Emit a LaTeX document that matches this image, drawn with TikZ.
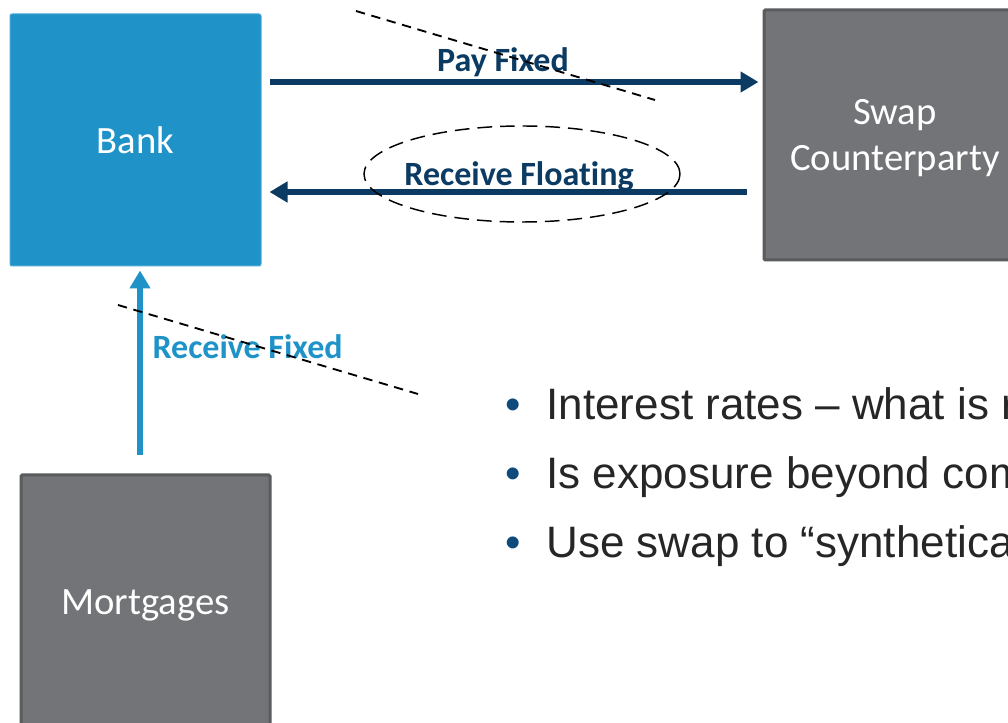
\documentclass[tikz,border=0pt]{standalone}
\usepackage{fontspec}
\setmainfont[Ligatures={NoCommon}]{Carlito}
\newfontfamily\bulletfont{Liberation Sans}
\usepackage{xcolor}
\usetikzlibrary{arrows.meta,calc}
\definecolor{bankblue}{HTML}{1F93C8}
\definecolor{flownavy}{HTML}{0B3A62}
\definecolor{boxgray}{HTML}{737478}
\definecolor{boxedge}{HTML}{5A5B5D}
\definecolor{bullettext}{HTML}{262626}
\definecolor{bulletdot}{HTML}{0E4A7C}
\tikzset{
  every picture/.style={line width=0.75pt},
  bankbox/.style={fill=bankblue, draw=bankblue!80!white, line width=0.75pt, rounded corners=1.5pt,
    text=white, font=\fontsize{29}{35}\selectfont, inner sep=0pt},
  graybox/.style={fill=boxgray, draw=boxedge, line width=2.25pt, rounded corners=1pt,
    text=white, font=\fontsize{29}{35}\selectfont, align=center, inner sep=0pt, text depth=0pt},
  flowarrow/.style={line width=4.5pt, -{Triangle[length=13.5pt,width=15pt]}},
  flowlabel/.style={font=\bfseries\fontsize{25.5}{30}\selectfont, inner sep=0pt},
  hintline/.style={line width=1.4pt, dash pattern=on 7pt off 5pt},
  ringline/.style={line width=1.1pt, dash pattern=on 11pt off 6pt},
  bulletline/.style={anchor=base west, inner sep=0pt, text=bullettext,
    font=\bulletfont\fontsize{33}{40}\selectfont}
}
\newcommand{\bulletmark}{\llap{{\color{bulletdot}\textbullet}\hspace{19pt}}}

\begin{document}
\begin{tikzpicture}[x=0.75pt,y=0.75pt,yscale=-1,xscale=1]
    \useasboundingbox (0,0) rectangle (1008,723);
    \clip (0,0) rectangle (1008,723);
    % boxes
    \node [bankbox, minimum width=188.25pt, minimum height=189pt] (bank) at (135.5,140) {Bank};
    \node [graybox, minimum width=196.5pt, minimum height=187.5pt] (swap) at (895,135) {Swap\\Counterparty};
    \node [graybox, minimum width=186.75pt, minimum height=190.5pt] (mortgages) at (145.5,602) {Mortgages};
    % flows between the bank and the counterparty
    \draw [flowarrow, draw=flownavy, color=flownavy] ($(bank.east)+(8,-58)$) -- ($(swap.west)+(-4,-53)$);
    \draw [flowarrow, draw=flownavy, color=flownavy] ($(swap.west)+(-16,57)$) -- ($(bank.east)+(8,52)$);
    \draw [flowarrow, draw=bankblue, color=bankblue] ($(mortgages.north)+(-5.5,-18)$) -- ($(bank.south)+(4.5,4)$);
    % labels
    \node [flowlabel, text=flownavy] (payfixed) at (503,62) {Pay Fixed};
    \node [flowlabel, text=flownavy] (recfloat) at (519,176) {Receive Float\kern0pt ing};
    \node [flowlabel, text=bankblue, anchor=west] (recfixed) at (152,347) {Receive Fixed};
    % dashed marks
    \draw [hintline] (356,11) -- (655,100);
    \draw [hintline] (118,305) -- (418,394);
    \draw [ringline] (522,174) ellipse [x radius=158, y radius=48];
    % bullets
    \node [bulletline] (pointa) at (546,420) {\bulletmark Interest rates – what is r};
    \node [bulletline] (pointb) at (546,489) {\bulletmark Is exposure beyond com};
    \node [bulletline] (pointc) at (546,558) {\bulletmark Use swap to “synthetica};
\end{tikzpicture}
\end{document}
